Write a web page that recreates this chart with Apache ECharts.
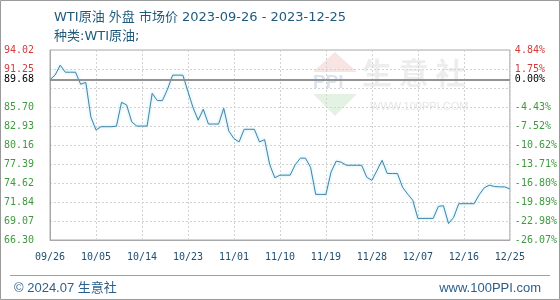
<!DOCTYPE html>
<html><head><meta charset="utf-8">
<script src="https://cdn.jsdelivr.net/npm/echarts@6/dist/echarts.min.js"></script>
<style>html,body{margin:0;padding:0;background:#fff}#c{width:560px;height:300px}</style>
</head><body><div id="c"></div>
<script>
const titleText = 'WTI原油 外盘 市场价 2023-09-26 - 2023-12-25';
const subTitleText = '种类:WTI原油;';
const footerLeft = '© 2024.07 生意社';
const footerRight = 'www.100PPI.com';
const basePrice = 89.68;
const yMin = 66.30, yMax = 94.02, yStep = 2.772;
const dates = [
 '09/26','09/27','09/28','09/29','09/30',
 '10/01','10/02','10/03','10/04','10/05','10/06','10/07','10/08','10/09','10/10','10/11','10/12','10/13','10/14','10/15','10/16','10/17','10/18','10/19','10/20','10/21','10/22','10/23','10/24','10/25','10/26','10/27','10/28','10/29','10/30','10/31',
 '11/01','11/02','11/03','11/04','11/05','11/06','11/07','11/08','11/09','11/10','11/11','11/12','11/13','11/14','11/15','11/16','11/17','11/18','11/19','11/20','11/21','11/22','11/23','11/24','11/25','11/26','11/27','11/28','11/29','11/30',
 '12/01','12/02','12/03','12/04','12/05','12/06','12/07','12/08','12/09','12/10','12/11','12/12','12/13','12/14','12/15','12/16','12/17','12/18','12/19','12/20','12/21','12/22','12/23','12/24','12/25'
];
const prices = [
 89.68, 90.37, 91.80, 90.78, 90.78,
 90.78, 89.02, 89.30, 84.25, 82.35, 82.83, 82.83, 82.83, 82.90, 86.39, 86.00, 83.52, 82.92, 82.92, 82.92, 87.70, 86.64, 86.64, 88.30, 90.35, 90.35, 90.35, 87.95, 85.60, 83.78, 85.38, 83.22, 83.22, 83.22, 85.52, 82.20,
 81.10, 80.60, 82.45, 82.45, 82.45, 80.60, 80.95, 77.30, 75.38, 75.76, 75.76, 75.76, 77.30, 78.24, 78.24, 76.90, 72.95, 72.95, 72.95, 76.20, 77.80, 77.65, 77.20, 77.20, 77.20, 77.20, 75.45, 75.00, 76.45, 77.92,
 76.00, 76.00, 76.00, 74.00, 73.00, 72.10, 69.45, 69.45, 69.45, 69.45, 71.20, 71.30, 68.70, 69.60, 71.60, 71.60, 71.60, 71.60, 72.90, 73.93, 74.30, 74.10, 74.05, 74.05, 73.75
];

const UP = '#d23c3c', DOWN = '#3f9a3f', BASEC = '#000';
const hideTick = v => Math.abs(v - (yMin + 8 * yStep)) < 0.01;
const colorOf = v => v > basePrice + 0.001 ? UP : (v < basePrice - 0.001 ? DOWN : BASEC);
const pct = v => ((v / basePrice - 1) * 100).toFixed(2) + '%';
const mono = 'DejaVu Sans Mono';
const sans = 'Liberation Sans, Noto Sans CJK SC, sans-serif';
const tsans = 'DejaVu Sans, Noto Sans CJK SC, sans-serif';

const chart = echarts.init(document.getElementById('c'), null, {renderer: 'canvas'});
chart.setOption({
  animation: false,
  backgroundColor: '#fff',
  grid: {left: 50, right: 50, top: 50, bottom: 60, show: true, borderColor: '#a8a8a8', borderWidth: 1},
  title: [
    {text: titleText, left: 49, top: 6, textStyle: {fontFamily: tsans, fontSize: 13, fontWeight: 'normal', color: '#1f5a7c'}},
    {text: subTitleText, left: 49, top: 25, textStyle: {fontFamily: tsans, fontSize: 13, fontWeight: 'normal', color: '#1f5a7c'}},
    {text: footerLeft, left: 9, top: 277, textStyle: {fontFamily: sans, fontSize: 13, fontWeight: 'normal', color: '#2b5f8a'}},
    {text: footerRight, right: 14, top: 277, textStyle: {fontFamily: sans, fontSize: 13, fontWeight: 'normal', color: '#2b5f8a'}}
  ],
  graphic: [
    {type: 'rect', shape: {x: 0.5, y: 0.5, width: 559, height: 299}, style: {fill: 'none', stroke: '#9a9a9a', lineWidth: 1}, silent: true},
    {type: 'line', shape: {x1: 10, y1: 275.5, x2: 550, y2: 275.5}, style: {stroke: '#a0a0a0', lineWidth: 1}, silent: true},
    {type: 'group', silent: true, z: 0, children: [
      {type: 'polygon', shape: {points: [[313, 72], [335, 52], [357, 72]]}, style: {fill: 'rgba(220,120,110,0.2)'}},
      {type: 'text', style: {x: 313, y: 73, text: 'PPI', font: 'bold 19px Liberation Sans', fill: 'rgba(120,140,190,0.25)'}},
      {type: 'polygon', shape: {points: [[313, 94], [357, 94], [335, 116]]}, style: {fill: 'rgba(120,190,120,0.2)'}},
      {type: 'text', style: {x: 362, y: 58, text: '生 意 社', font: 'bold 30px Noto Sans CJK SC', fill: 'rgba(195,195,195,0.3)'}},
      {type: 'text', style: {x: 370, y: 101, text: 'WWW.100PPI.COM', font: '11px Liberation Sans', fill: 'rgba(190,190,190,0.4)'}}
    ]}
  ],
  xAxis: {
    type: 'category', data: dates, boundaryGap: false,
    axisLine: {show: true, lineStyle: {color: '#a8a8a8'}},
    axisTick: {show: false},
    axisLabel: {interval: 8, margin: 12, fontFamily: mono, fontSize: 10, color: '#1f4e70'},
    splitLine: {show: true, interval: 8, lineStyle: {color: '#d2d2d2', type: [2, 2]}}
  },
  yAxis: [
    {type: 'value', min: yMin, max: yMax, interval: yStep, position: 'left',
     axisLine: {show: true, lineStyle: {color: '#a8a8a8'}}, axisTick: {show: false},
     axisLabel: {margin: 16, fontFamily: mono, fontSize: 10,
       formatter: v => hideTick(v) ? '' : v.toFixed(2), color: v => colorOf(+v)},
     splitLine: {show: true, lineStyle: {color: '#d2d2d2', type: [2, 2]}}},
    {type: 'value', min: yMin, max: yMax, interval: yStep, position: 'right',
     axisLine: {show: false}, axisTick: {show: false},
     axisLabel: {margin: 5, fontFamily: mono, fontSize: 10,
       formatter: v => hideTick(v) ? '' : pct(v), color: v => colorOf(+v)},
     splitLine: {show: false}}
  ],
  series: [{
    type: 'line', data: prices, showSymbol: false, smooth: false,
    lineStyle: {color: '#4284aa', width: 1, shadowColor: 'rgba(120,210,235,0.8)', shadowBlur: 3},
    markLine: {
      silent: true, symbol: 'none', animation: false,
      lineStyle: {color: '#8c8c8c', type: 'solid', width: 1.5},
      data: [
        {yAxis: basePrice, label: {position: 'start', formatter: basePrice.toFixed(2), color: BASEC, fontFamily: mono, fontSize: 10, distance: 16}},
        {yAxis: basePrice, label: {position: 'end', formatter: pct(basePrice), color: BASEC, fontFamily: mono, fontSize: 10, distance: 5}}
      ]
    }
  }]
});
</script></body></html>
